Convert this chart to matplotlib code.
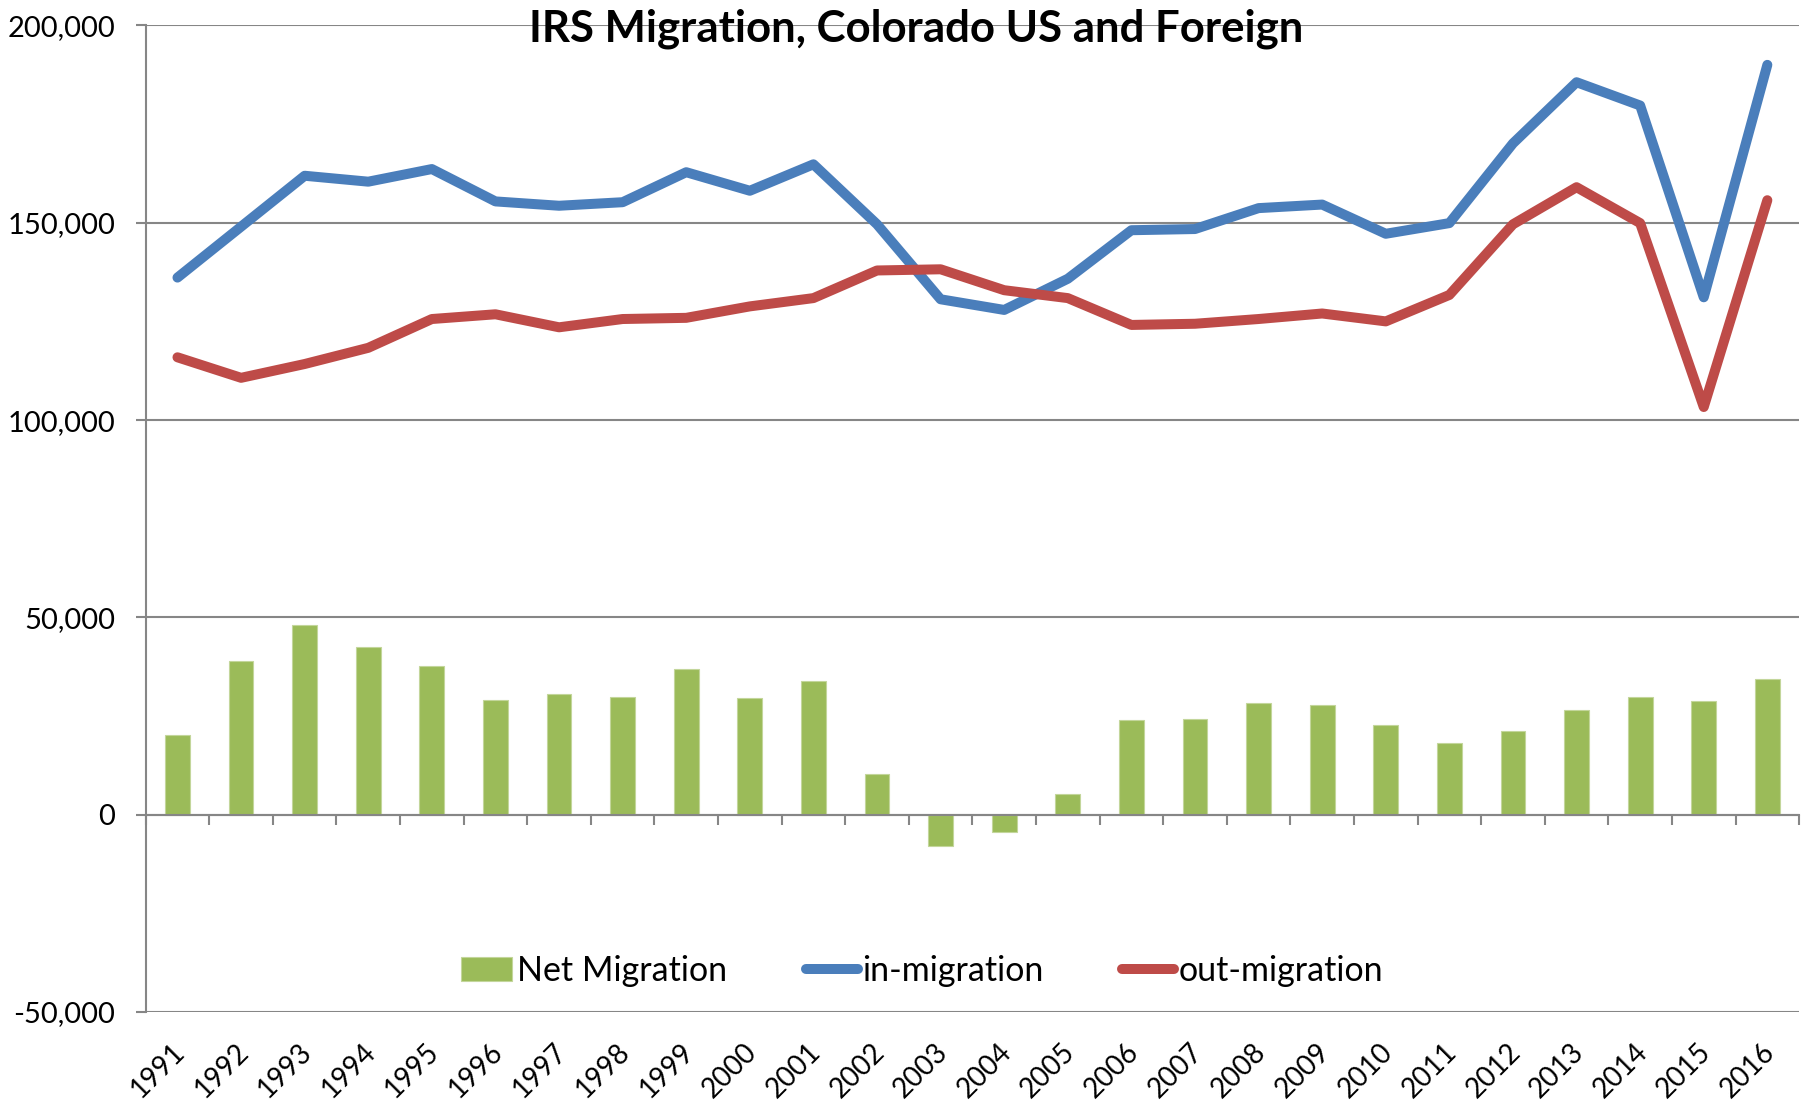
import matplotlib
matplotlib.use("Agg")
import matplotlib.pyplot as plt
import matplotlib.transforms as mtransforms
from matplotlib.ticker import FuncFormatter, FixedLocator
import numpy as np

plt.rcParams['font.family'] = ['Lato', 'DejaVu Sans']

years = [str(y) for y in range(1991, 2017)]
in_migration = [136100, 149000, 161900, 160400, 163600, 155400, 154300, 155200, 162800,
                158100, 164800, 149600, 130600, 127900, 135800, 148100, 148400, 153700,
                154600, 147200, 149900, 170100, 185600, 179700, 131100, 190000]
out_migration = [115900, 110700, 114200, 118300, 125600, 126800, 123500, 125600, 125900,
                 128800, 130900, 137900, 138200, 132900, 130900, 124100, 124400, 125600,
                 127000, 125000, 131700, 149600, 159000, 149900, 103300, 155700]
net_migration = [20200, 38900, 48000, 42400, 37800, 29000, 30700, 29900, 36900, 29600,
                 34000, 10200, -7900, -4400, 5300, 24000, 24300, 28400, 27800, 22800,
                 18100, 21100, 26600, 29900, 28700, 34300]
y_ticks = [-50000, 0, 50000, 100000, 150000, 200000]
title = "IRS Migration, Colorado US and Foreign"

GREEN = "#9BBB59"
BLUE = "#4A7EBB"
RED = "#BE4B48"
GRID = "#868686"

fig = plt.figure(figsize=(18.12, 11.04), dpi=100)
ax = fig.add_axes([0.0804, 0.0833, 0.9125, 0.8937])

x = np.arange(len(years))
h_net = ax.bar(x, net_migration, width=0.39, color=GREEN, edgecolor="#C3D69B", linewidth=0.8,
               label="Net Migration", zorder=2)
h_in, = ax.plot(x, in_migration, color=BLUE, lw=7.2, solid_capstyle='round',
                solid_joinstyle='round', label="in-migration", zorder=3)
h_out, = ax.plot(x, out_migration, color=RED, lw=7.2, solid_capstyle='round',
                 solid_joinstyle='round', label="out-migration", zorder=3)

ax.set_xlim(-0.5, len(years) - 0.5)
ax.set_ylim(y_ticks[0], y_ticks[-1])
ax.yaxis.set_major_locator(FixedLocator(y_ticks))
ax.yaxis.set_major_formatter(FuncFormatter(lambda v, p: f"{v:,.0f}"))
ax.grid(axis='y', color=GRID, lw=1.5, zorder=0)
ax.set_axisbelow(True)

for s in ['top', 'right']:
    ax.spines[s].set_visible(False)
ax.spines['left'].set_color(GRID)
ax.spines['left'].set_linewidth(1.5)
ax.spines['bottom'].set_position(('data', 0))
ax.spines['bottom'].set_color(GRID)
ax.spines['bottom'].set_linewidth(1.5)
ax.spines['bottom'].set_zorder(4)

ax.tick_params(axis='y', length=7, width=1.5, color=GRID, direction='out', pad=15,
               labelsize=21, labelcolor='black')
ax.set_xticks(np.arange(len(years) + 1) - 0.5)
ax.set_xticklabels([])
ax.tick_params(axis='x', length=7, width=1.5, color=GRID, direction='out')

trans = mtransforms.blended_transform_factory(ax.transData, ax.transAxes)
for i, lab in enumerate(years):
    ax.text(i + 0.05, -0.036, lab, transform=trans, rotation=45, ha='right', va='center',
            rotation_mode='anchor', fontsize=20)

leg = ax.legend([h_net, h_in, h_out], ["Net Migration", "in-migration", "out-migration"],
                loc='center', bbox_to_anchor=(0.4696, 0.042), ncol=3, frameon=False,
                fontsize=24.5, handlelength=1.52, handletextpad=0.15, columnspacing=2.3,
                handleheight=0.7)

fig.text(0.5054, 0.9623, title, ha='center', va='baseline', fontsize=31.5, fontweight='bold')

fig.savefig("out.png", dpi=100)
